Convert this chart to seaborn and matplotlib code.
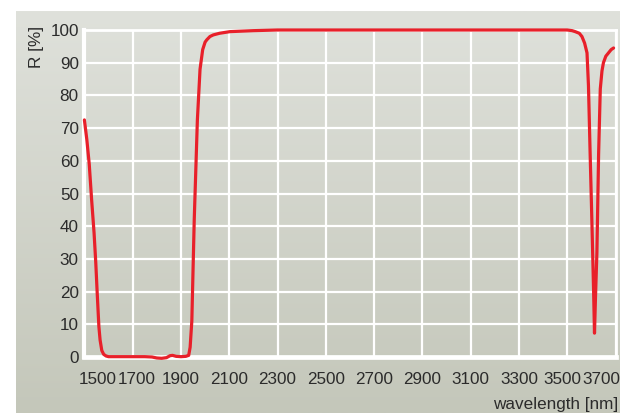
import numpy as np
import pandas as pd
import matplotlib
matplotlib.use("Agg")
import matplotlib.pyplot as plt
import matplotlib.transforms as mtransforms
import seaborn as sns
from matplotlib.colors import LinearSegmentedColormap

# ---- data ----
wavelength = [1500, 1510, 1520, 1530, 1540, 1547, 1553, 1560, 1565, 1572, 1580,
              1590, 1600, 1650, 1700, 1750, 1780, 1800, 1820, 1840, 1855, 1865,
              1880, 1900, 1920, 1932, 1938, 1945, 1955, 1968, 1979, 1990, 2000,
              2007, 2020, 2034, 2060, 2103, 2200, 2300, 2500, 2700, 2900, 3100,
              3300, 3500, 3520, 3533, 3550, 3561, 3572, 3582, 3588, 3595, 3602,
              3609, 3613, 3617, 3623, 3630, 3637, 3644, 3650, 3660, 3671, 3682,
              3692]
reflectance = [72.5, 66.5, 59, 48, 38, 29, 19.6, 9.3, 5.2, 2, 0.8,
               0.3, 0.1, 0.1, 0.1, 0.1, 0.0, -0.3, -0.4, -0.2, 0.4, 0.5,
               0.2, 0.1, 0.2, 0.5, 3, 11, 42, 72.5, 88, 94, 96.3,
               97, 98, 98.5, 99, 99.5, 99.8, 100, 100, 100, 100, 100,
               100, 100, 99.8, 99.5, 99, 98, 96, 93, 83, 62, 42,
               21, 7.3, 18, 32, 62, 82, 87.5, 90, 92, 93, 94,
               94.5]
x_ticks = [1500, 1700, 1900, 2100, 2300, 2500, 2700, 2900, 3100, 3300, 3500, 3700]
y_ticks = [0, 10, 20, 30, 40, 50, 60, 70, 80, 90, 100]

df = pd.DataFrame({"wavelength": wavelength, "R": reflectance})

sns.set_theme(style="white")
plt.rcParams['font.family'] = ['Liberation Sans', 'DejaVu Sans']

W, H = 620, 413
fig = plt.figure(figsize=(W / 100, H / 100), dpi=100, facecolor="white")

# gradient background panel
bg = fig.add_axes([16 / W, 0, (W - 16) / W, (H - 11) / H])
bg.set_axis_off()
cmap = LinearSegmentedColormap.from_list("bgc", ["#dfe1db", "#c4c7ba"])
bg.imshow(np.linspace(0, 1, 256).reshape(-1, 1), aspect="auto", cmap=cmap,
          extent=[0, 1, 0, 1], origin="upper")
bg.set_xlim(0, 1)
bg.set_ylim(0, 1)

left, right = 84.4 / W, 615.5 / W
bottom, top = 1 - 357 / H, 1 - 30 / H
ax = fig.add_axes([left, bottom, right - left, top - bottom])
ax.set_facecolor("none")

sns.lineplot(data=df, x="wavelength", y="R", ax=ax, color="#e8202a",
             linewidth=2.3, estimator=None, zorder=5, clip_on=False)

ax.set_xlim(1500, 3700)
ax.set_ylim(0, 100)
ax.set_xticks(x_ticks)
ax.set_yticks(y_ticks)
ax.set_xticklabels([str(t) for t in x_ticks])
ax.set_yticklabels([str(t) for t in y_ticks])
ax.grid(True, color="white", linewidth=1.6)
ax.set_axisbelow(True)
ax.tick_params(axis="both", length=0, labelsize=12.3, colors="#2b2b2b")
ax.tick_params(axis="y", pad=4)
ax.tick_params(axis="x", pad=11)

# squeeze the outer x labels inward like the reference
shifts = {1500: 13, 1700: 4, 3500: -5, 3700: -14}
for lbl, t in zip(ax.get_xticklabels(), x_ticks):
    dx = shifts.get(t, 0)
    if dx:
        lbl.set_transform(lbl.get_transform() +
                          mtransforms.ScaledTranslation(dx / 100, 0, fig.dpi_scale_trans))

for side, lw in [("left", 3.0), ("bottom", 3.4), ("top", 2.0), ("right", 2.0)]:
    ax.spines[side].set_visible(True)
    ax.spines[side].set_color("white")
    ax.spines[side].set_linewidth(lw)

ax.set_xlabel("")
ax.set_ylabel("")
fig.text(618 / W, 1 - 405 / H, "wavelength [nm]", ha="right", va="center",
         fontsize=12.3, color="#2b2b2b")
fig.text(36 / W, 1 - 47 / H, "R [%]", ha="center", va="center", rotation=90,
         fontsize=12.3, color="#2b2b2b")

fig.savefig("out.png", dpi=100, facecolor="white")
